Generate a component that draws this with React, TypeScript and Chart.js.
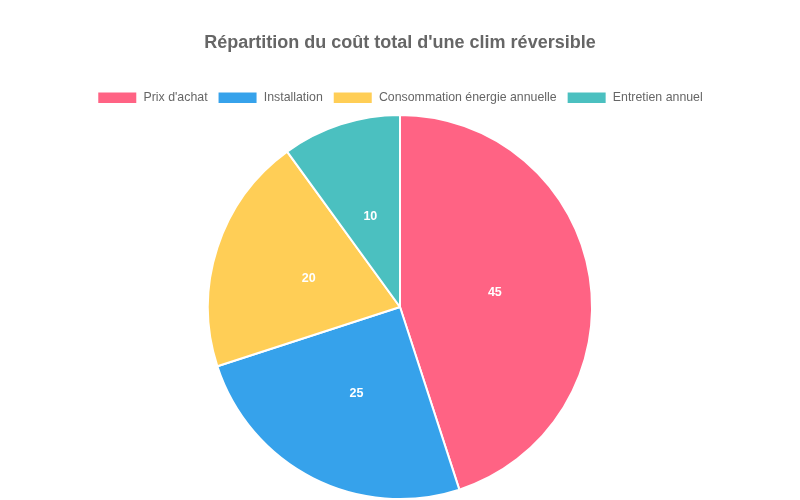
import React, { useEffect, useRef } from "react";
import { Chart, registerables } from "chart.js";

Chart.register(...registerables);

// Chart data
const categories = [
  "Prix d'achat",
  "Installation",
  "Consommation énergie annuelle",
  "Entretien annuel",
];
const costShares = [45, 25, 20, 10];
const sliceColors = ["#FF6384", "#36A2EB", "#FFCE56", "#4BC0C0"];

// Draw the value in the middle of each slice (like chartjs-plugin-datalabels)
const sliceLabels = {
  id: "sliceLabels",
  afterDatasetsDraw(chart: Chart) {
    const ctx = chart.ctx;
    const meta = chart.getDatasetMeta(0);
    ctx.save();
    ctx.fillStyle = "#ffffff";
    ctx.font = "bold 12.5px 'Liberation Sans', Arial, sans-serif";
    ctx.textAlign = "center";
    ctx.textBaseline = "middle";
    meta.data.forEach((arc: any, i: number) => {
      const { x, y } = arc.tooltipPosition();
      ctx.fillText(String(costShares[i]), x, y + 1);
    });
    ctx.restore();
  },
};

const App: React.FC = () => {
  const chartRef = useRef<HTMLCanvasElement | null>(null);

  useEffect(() => {
    document.body.style.margin = "0";
    if (!chartRef.current) return;

    Chart.defaults.font.family = "'Liberation Sans', Arial, sans-serif";

    const chart = new Chart(chartRef.current, {
      type: "pie",
      data: {
        labels: categories,
        datasets: [
          {
            data: costShares,
            backgroundColor: sliceColors,
            borderColor: "#ffffff",
            borderWidth: 2,
          },
        ],
      },
      options: {
        responsive: true,
        maintainAspectRatio: false,
        animation: false,
        layout: { padding: { top: 20, bottom: 0 } },
        plugins: {
          title: {
            display: true,
            text: "Répartition du coût total d'une clim réversible",
            color: "#666666",
            font: { size: 18, weight: "bold" },
            padding: { top: 12, bottom: 28 },
          },
          legend: {
            position: "top",
            labels: { color: "#666666", font: { size: 12.35 } },
          },
          tooltip: { enabled: false },
        },
      },
      plugins: [sliceLabels],
    });

    return () => {
      chart.destroy(); // clean up on unmount
    };
  }, []);

  return (
    <div style={{ width: 800, height: 500, position: "relative" }}>
      <canvas ref={chartRef}></canvas>
    </div>
  );
};

export default App;
